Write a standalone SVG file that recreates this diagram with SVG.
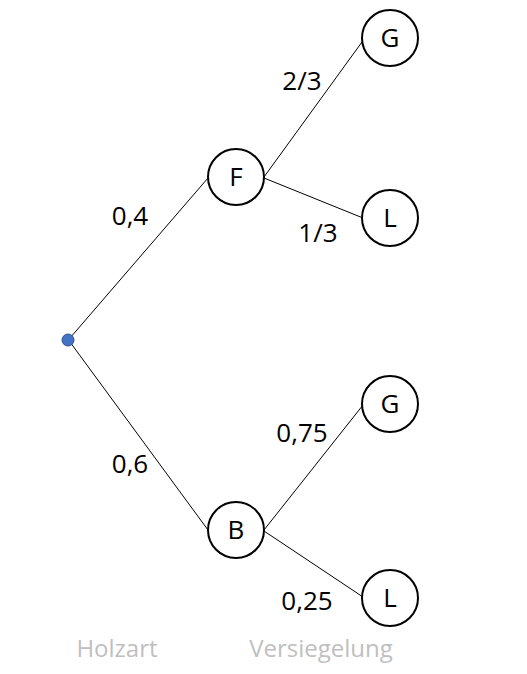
<svg xmlns="http://www.w3.org/2000/svg" width="527" height="674" viewBox="0 0 527 674">
<style>
.node{fill:#fff;stroke:#000;stroke-width:2}
.lbl{font-family:"Open Sans","Liberation Sans",sans-serif;font-size:26px;fill:#000;text-anchor:middle}
.cap{font-family:"Open Sans","Liberation Sans",sans-serif;font-size:24px;fill:#BFBFBF;text-anchor:middle}
.edge{stroke:#000;stroke-width:1;fill:none}
</style>
<rect width="527" height="674" fill="#fff"/>
<g id="connectors">
<line class="edge" x1="70" y1="338" x2="208" y2="178"/>
<line class="edge" x1="70" y1="342" x2="208" y2="530"/>
<line class="edge" x1="264" y1="177" x2="362" y2="42"/>
<line class="edge" x1="264" y1="178" x2="363" y2="218"/>
<line class="edge" x1="264" y1="530" x2="363" y2="405"/>
<line class="edge" x1="264" y1="531" x2="363" y2="597"/>
</g>
<g id="root"><circle cx="68" cy="340" r="6" fill="#4472C4" stroke="#2F528F" stroke-width="1"/></g>
<g id="F"><circle class="node" cx="236" cy="177" r="28"/><text class="lbl" x="236" y="186">F</text></g>
<g id="B"><circle class="node" cx="236" cy="530" r="28"/><text class="lbl" x="236" y="539">B</text></g>
<g id="G1"><circle class="node" cx="390" cy="38" r="28"/><text class="lbl" x="390" y="47">G</text></g>
<g id="L1"><circle class="node" cx="390" cy="218" r="28"/><text class="lbl" x="390" y="227">L</text></g>
<g id="G2"><circle class="node" cx="390" cy="404" r="28"/><text class="lbl" x="390" y="413">G</text></g>
<g id="L2"><circle class="node" cx="390" cy="598" r="28"/><text class="lbl" x="390" y="607">L</text></g>
<g id="labels">
<text class="lbl" x="130" y="225">0,4</text>
<text class="lbl" x="130" y="473">0,6</text>
<text class="lbl" x="302" y="90">2/3</text>
<text class="lbl" x="318" y="242">1/3</text>
<text class="lbl" x="302" y="442">0,75</text>
<text class="lbl" x="307" y="610">0,25</text>
<text class="cap" x="117" y="657">Holzart</text>
<text class="cap" x="321" y="657">Versiegelung</text>
</g>
</svg>
